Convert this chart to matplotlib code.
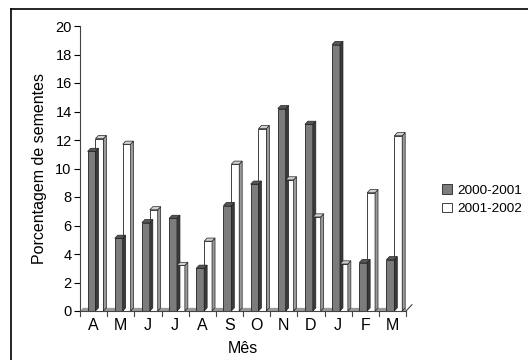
import matplotlib.pyplot as plt
from matplotlib.patches import Polygon
from matplotlib.lines import Line2D

plt.rcParams['font.family'] = ['Liberation Sans', 'DejaVu Sans']

months = ['A', 'M', 'J', 'J', 'A', 'S', 'O', 'N', 'D', 'J', 'F', 'M']
s2000 = [11.2, 5.1, 6.2, 6.5, 3.0, 7.4, 8.9, 14.2, 13.1, 18.7, 3.4, 3.6]
s2001 = [12.1, 11.7, 7.1, 3.2, 4.9, 10.3, 12.8, 9.2, 6.6, 3.3, 8.3, 12.3]
labels = ['2000-2001', '2001-2002']

fig = plt.figure(figsize=(5.28, 3.6), dpi=100)
ax = fig.add_axes([80/528, 49/360, 326/528, 285/360])

n = len(months)
x = list(range(n))
w = 0.29
off = 0.07
dx = 0.11   # depth offset in category units
dy = 0.22   # depth offset in y units

# floor
ax.add_patch(Polygon([(-0.5, 0), (n - 0.5, 0), (n - 0.5 + dx, dy), (-0.5 + dx, dy)],
                     closed=True, facecolor='#9a9a9a', edgecolor='none', zorder=1))

def bar3d(xl, h, side, top):
    ax.add_patch(Polygon([(xl + w, 0), (xl + w + dx, dy), (xl + w + dx, h + dy), (xl + w, h)],
                         closed=True, facecolor=side, edgecolor='#222222', lw=0.5, zorder=3))
    ax.add_patch(Polygon([(xl, h), (xl + w, h), (xl + w + dx, h + dy), (xl + dx, h + dy)],
                         closed=True, facecolor=top, edgecolor='#222222', lw=0.5, zorder=3))

b1 = ax.bar([i - w + off for i in x], s2000, width=w, align='edge', color='#7c7c7c',
            edgecolor='#222222', linewidth=0.6, zorder=2, label=labels[0])
b2 = ax.bar([i + off for i in x], s2001, width=w, align='edge', color='white',
            edgecolor='#222222', linewidth=0.6, zorder=2, label=labels[1])
for i in x:
    bar3d(i - w + off, s2000[i], '#3a3a3a', '#555555')
    bar3d(i + off, s2001[i], '#9a9a9a', '#d0d0d0')

ax.set_xlim(-0.5, n - 0.5)
ax.set_ylim(0, 20)
ax.set_yticks(range(0, 21, 2))
ax.set_xticks(x)
ax.set_xticklabels(months, fontsize=11.5)
ax.tick_params(axis='x', length=0, pad=5)
ax.tick_params(axis='y', labelsize=10.5, direction='out', length=4, pad=2)
for s in ['top', 'right']:
    ax.spines[s].set_visible(False)
ax.spines['left'].set_color('#444444')
ax.spines['bottom'].set_color('#444444')

# category separator ticks on x axis
for b in range(n + 1):
    ax.plot([b - 0.5, b - 0.5], [0, -0.35], color='#444444', lw=0.8, clip_on=False)
ax.plot([n - 0.5, n - 0.5 + dx * 2], [0, dy * 2], color='#444444', lw=0.8, clip_on=False)

ax.set_xlabel('Mês', fontsize=11.5, labelpad=6)
ax.set_ylabel('Porcentagem de sementes', fontsize=11.5, labelpad=6)

fig.legend(handles=[b1, b2], labels=labels, loc='upper left',
           bbox_to_anchor=(430/528, 1 - 172/360), frameon=False, fontsize=9.7,
           handlelength=0.7, handleheight=0.7, handletextpad=0.4, labelspacing=0.45)

# outer frame (left and top lines)
fig.add_artist(Line2D([11/528, 11/528], [0, 1 - 9/360], color='black', lw=1.2))
fig.add_artist(Line2D([11/528, 1], [1 - 9/360, 1 - 9/360], color='black', lw=1.2))

fig.savefig('out.png', dpi=100)
